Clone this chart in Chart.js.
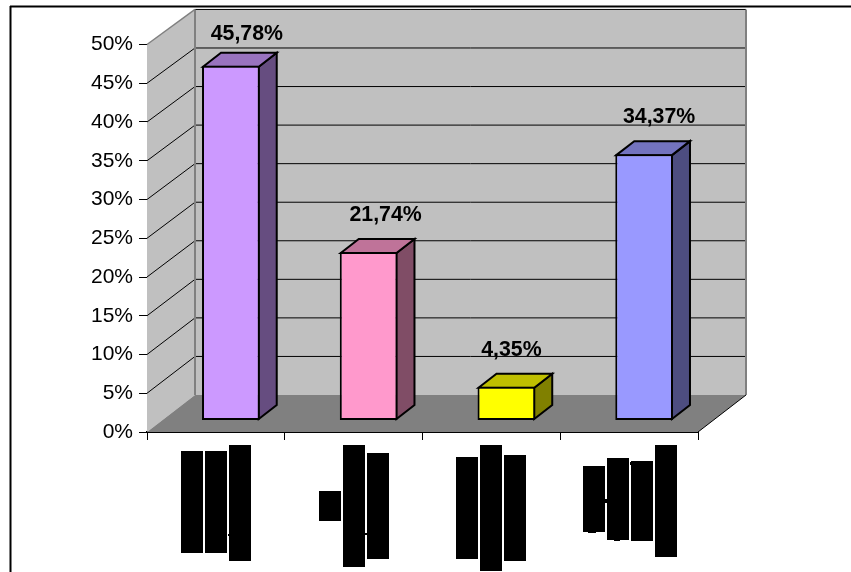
<!DOCTYPE html>
<html>
<head>
<meta charset="utf-8">
<title>Grafico</title>
<style>
  html, body { margin: 0; padding: 0; background: #fff; overflow: hidden; }
  #wrap { position: relative; width: 851px; height: 572px; }
</style>
</head>
<body>
<div id="wrap"><canvas id="myChart" width="851" height="572"></canvas></div>
<script src="https://cdn.jsdelivr.net/npm/chart.js@4"></script>
<script>
const categories = ["A", "B", "C", "D"];
const seriesValues = [45.78, 21.74, 4.35, 34.37];
const valueLabels = ["45,78%", "21,74%", "4,35%", "34,37%"];
const tickValues = [0, 5, 10, 15, 20, 25, 30, 35, 40, 45, 50];

const frontColors = ["#CC99FF", "#FF99CC", "#FFFF00", "#9999FF"];
const topColors = ["#9973BF", "#BF7399", "#BFBF00", "#7373BF"];
const sideColors = ["#664D80", "#804D66", "#808000", "#4D4D80"];

// depth of the box the chart sits in, and of the bars inside it
const boxDx = 48, boxDy = -37;
const backScale = 0.995; // back wall is a touch shorter than the front axis
const barDx = 18, barDy = -14;
const barShiftX = 15, barShiftY = -11.5;
const barLine = 2;

// label position relative to the bar's front top edge
const labelShift = [[16, -31.5], [17, -36.5], [5, -36.5], [15, -37.5]];

// black blocks over the category names: [x, y, w, h]
const nameBlocks = [
  [181, 451, 22, 102], [205, 451, 22, 102], [229, 445, 22, 116], [228, 534, 2, 2],
  [319, 491, 22, 30], [343, 445, 22, 122], [367, 453, 22, 106], [365, 533, 2, 2],
  [456, 457, 22, 102], [480, 445, 22, 126], [504, 455, 22, 106],
  [583, 466, 22, 66], [607, 458, 22, 82], [631, 461, 22, 80], [655, 445, 22, 112],
  [605, 499, 2, 4], [630, 462, 2, 3], [588, 532, 8, 1], [614, 540, 6, 1]
];

function poly(ctx, pts, fill, stroke, lw) {
  ctx.beginPath();
  pts.forEach((p, i) => (i ? ctx.lineTo(p[0], p[1]) : ctx.moveTo(p[0], p[1])));
  ctx.closePath();
  if (fill) {
    ctx.fillStyle = fill;
    ctx.fill();
  }
  if (stroke) {
    ctx.strokeStyle = stroke;
    ctx.lineWidth = lw;
    ctx.stroke();
  }
}

function line(ctx, x1, y1, x2, y2, color, lw) {
  ctx.beginPath();
  ctx.moveTo(x1, y1);
  ctx.lineTo(x2, y2);
  ctx.strokeStyle = color;
  ctx.lineWidth = lw;
  ctx.stroke();
}

const box3d = {
  id: "box3d",
  beforeDatasetsDraw(chart) {
    const ctx = chart.ctx;
    const { left, right, bottom } = chart.chartArea;
    const y = chart.scales.y;
    const backY = (py) => bottom + boxDy - (bottom - py) * backScale;
    const top = y.getPixelForValue(50);
    const backTop = backY(top);
    const backBottom = bottom + boxDy;

    // frame around the sheet, only top and left show
    line(ctx, 10.5, 6, 10.5, 572, "#000", 2);
    line(ctx, 10, 6.5, 851, 6.5, "#000", 2);

    // walls and floor
    poly(ctx, [[left + boxDx, backTop], [right + boxDx, backTop], [right + boxDx, backBottom], [left + boxDx, backBottom]], "#C0C0C0");
    poly(ctx, [[left, top], [left + boxDx, backTop], [left + boxDx, backBottom], [left, bottom]], "#C0C0C0");
    poly(ctx, [[left, bottom], [left + boxDx, backBottom], [right + boxDx, backBottom], [right, bottom]], "#808080");

    // gridlines run along the side wall and across the back
    tickValues.forEach((v) => {
      if (v === 0) return;
      const py = y.getPixelForValue(v);
      if (v < 50) line(ctx, left, py, left + boxDx, backY(py), "#000", 1);
      line(ctx, left + boxDx, backY(py), right + boxDx, backY(py), "#000", 1);
    });

    // wall edges
    line(ctx, left + boxDx, backTop, left + boxDx, backBottom, "#808080", 2);
    line(ctx, right + boxDx, backTop, right + boxDx, backBottom, "#808080", 2);
    line(ctx, left, top, left + boxDx, backTop, "#808080", 1.5);
    line(ctx, right, bottom, right + boxDx, backBottom, "#000", 1);

    // side and top faces of the bars sit behind the front face,
    // the library insets a bar's border so the corners are pulled in by half a line
    const inset = barLine / 2;
    const meta = chart.getDatasetMeta(0);
    meta.data.forEach((bar, i) => {
      const l = bar.x - bar.width / 2 + barShiftX + inset;
      const r = bar.x + bar.width / 2 + barShiftX - inset;
      const t = bar.y + barShiftY + inset;
      const b = bar.base + barShiftY - inset;
      poly(ctx, [[r, t], [r + barDx, t + barDy], [r + barDx, b + barDy], [r, b]], sideColors[i], "#000", barLine);
      poly(ctx, [[l, t], [l + barDx, t + barDy], [r + barDx, t + barDy], [r, t]], topColors[i], "#000", barLine);
    });

    ctx.save();
    ctx.translate(barShiftX, barShiftY);
  },
  afterDatasetsDraw(chart) {
    const ctx = chart.ctx;
    ctx.restore();

    const meta = chart.getDatasetMeta(0);
    ctx.fillStyle = "#000";
    ctx.font = "bold 21.3px 'Liberation Sans'";
    ctx.textAlign = "center";
    ctx.textBaseline = "middle";
    meta.data.forEach((bar, i) => {
      ctx.fillText(valueLabels[i], bar.x + barShiftX + labelShift[i][0], bar.y + barShiftY + labelShift[i][1]);
    });

    nameBlocks.forEach((b) => ctx.fillRect(b[0], b[1], b[2], b[3]));
  },
};

new Chart("myChart", {
  type: "bar",
  data: {
    labels: categories,
    datasets: [
      {
        data: seriesValues,
        backgroundColor: frontColors,
        borderColor: "#000",
        borderWidth: barLine,
        borderSkipped: false,
        barPercentage: 0.419,
        categoryPercentage: 1,
      },
    ],
  },
  options: {
    responsive: false,
    animation: false,
    layout: { padding: { left: 0, right: 153, top: 44.5, bottom: 0 } },
    plugins: { legend: { display: false }, tooltip: { enabled: false } },
    scales: {
      x: {
        afterFit: (s) => { s.height = 140; },
        ticks: { display: false },
        border: { color: "#000", width: 2 },
        grid: { drawOnChartArea: false, color: "#000", tickLength: 8 },
      },
      y: {
        min: 0,
        max: 50,
        afterFit: (s) => { s.width = 147; },
        afterBuildTicks: (s) => { s.ticks = tickValues.map((v) => ({ value: v })); },
        ticks: {
          color: "#000",
          padding: 6,
          font: { family: "'Liberation Sans'", size: 21 },
          callback: (v) => v + "%",
        },
        border: { color: "#000", width: 1 },
        grid: { drawOnChartArea: false, color: "#000", tickLength: 8 },
      },
    },
  },
  plugins: [box3d],
});
</script>
</body>
</html>
